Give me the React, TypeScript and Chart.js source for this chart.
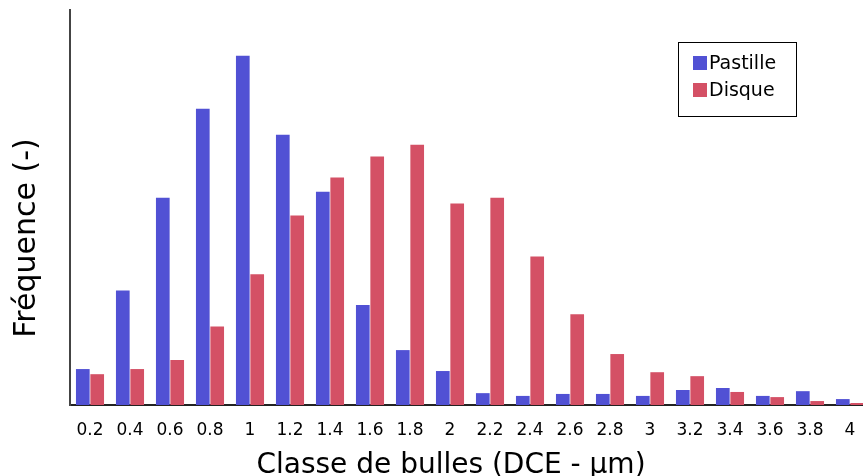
import React, { useEffect, useRef } from "react";
import { Chart, registerables } from "chart.js";

Chart.register(...registerables);

const categories = ["0.2", "0.4", "0.6", "0.8", "1", "1.2", "1.4", "1.6", "1.8", "2", "2.2", "2.4", "2.6", "2.8", "3", "3.2", "3.4", "3.6", "3.8", "4"];
const pastille = [9.1, 29.0, 52.5, 75.0, 88.4, 68.4, 54.0, 25.3, 13.9, 8.6, 3.0, 2.3, 2.8, 2.8, 2.3, 3.8, 4.3, 2.3, 3.5, 1.5];
const disque = [7.8, 9.1, 11.4, 19.9, 33.1, 48.0, 57.6, 62.9, 65.9, 51.0, 52.5, 37.6, 23.0, 12.9, 8.3, 7.3, 3.3, 2.0, 1.0, 0.5];
const seriesNames = ["Pastille", "Disque"];
const xTitle = "Classe de bulles (DCE - µm)";
const yTitle = "Fréquence (-)";

const BLUE = "rgb(81,81,212)";
const RED = "rgb(212,80,101)";
const FONT = '"DejaVu Sans", sans-serif';

const overlay = {
  id: "overlay",
  afterDraw(chart: any) {
    const ctx = chart.ctx;
    ctx.save();
    ctx.fillStyle = "#000";
    ctx.font = `30px ${FONT}`;
    ctx.translate(35, 238);
    ctx.rotate(-Math.PI / 2);
    ctx.textAlign = "center";
    ctx.textBaseline = "alphabetic";
    ctx.fillText(yTitle, 0, 0);
    ctx.restore();

    ctx.save();
    ctx.fillStyle = "#000";
    ctx.font = `28px ${FONT}`;
    ctx.textAlign = "center";
    ctx.textBaseline = "alphabetic";
    ctx.fillText(xTitle, 451, 473);

    ctx.strokeStyle = "#000";
    ctx.lineWidth = 1;
    ctx.strokeRect(678.5, 42.5, 118, 74);
    ctx.font = `19px ${FONT}`;
    ctx.textAlign = "left";
    ctx.textBaseline = "middle";
    chart.data.datasets.forEach((ds: any, i: number) => {
      const cy = 63 + i * 27;
      ctx.fillStyle = ds.backgroundColor;
      ctx.fillRect(693, cy - 7, 14, 14);
      ctx.fillStyle = "#000";
      ctx.fillText(ds.label, 709, cy + 1);
    });
    ctx.restore();
  },
};

export default function App() {
  const ref = useRef<HTMLCanvasElement>(null);
  useEffect(() => {
    if (!ref.current) return;
    const chart = new Chart(ref.current, {
      type: "bar",
      data: {
        labels: categories,
        datasets: [
          { label: seriesNames[0], data: pastille, backgroundColor: BLUE, barPercentage: 0.95, categoryPercentage: 0.72 },
          { label: seriesNames[1], data: disque, backgroundColor: RED, barPercentage: 0.95, categoryPercentage: 0.72 },
        ],
      },
      options: {
        responsive: false,
        animation: false,
        devicePixelRatio: 1,
        layout: { padding: { top: 10, right: 10, left: 0, bottom: 0 } },
        plugins: { legend: { display: false }, tooltip: { enabled: false } },
        scales: {
          x: {
            grid: { display: false },
            border: { display: true, color: "#222", width: 2 },
            ticks: { color: "#000", font: { family: FONT, size: 17 }, padding: 7, maxRotation: 0, autoSkip: false },
            afterFit: (s: any) => { s.height = 71; },
          },
          y: {
            min: 0,
            max: 100,
            grid: { display: false },
            border: { display: true, color: "#444", width: 2 },
            ticks: { display: false },
            afterFit: (s: any) => { s.width = 70; },
          },
        },
      },
      plugins: [overlay],
    });
    return () => chart.destroy();
  }, []);
  return (
    <div style={{ position: "fixed", left: 0, top: 0, width: 863, height: 476, overflow: "hidden", background: "#fff" }}>
      <canvas ref={ref} width={880} height={476} style={{ display: "block" }} />
    </div>
  );
}
